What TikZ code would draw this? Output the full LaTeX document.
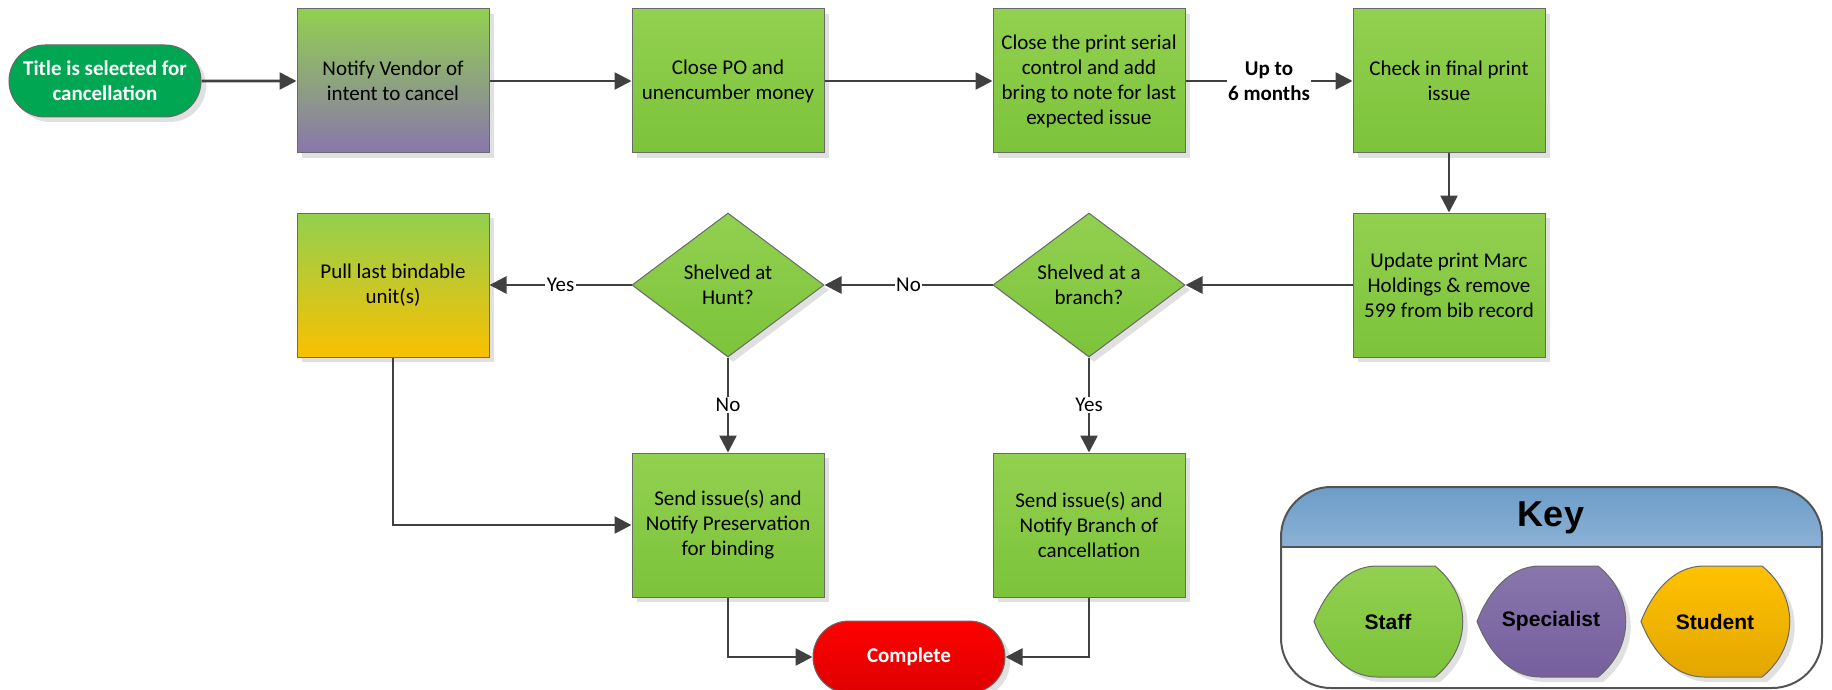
\documentclass[tikz,border=0pt]{standalone}
\usepackage{fontspec}
\setmainfont{Carlito}
\newfontfamily\arialfont{Liberation Sans}
\usetikzlibrary{shapes.geometric,shapes.misc,arrows.meta,shadows}
\definecolor{gTop}{RGB}{146,208,80}
\definecolor{gBot}{RGB}{124,195,58}
\definecolor{pBot}{RGB}{137,118,172}
\definecolor{oBot}{RGB}{250,192,0}
\definecolor{startG}{RGB}{0,166,81}
\definecolor{redTop}{RGB}{255,0,0}
\definecolor{redBot}{RGB}{222,0,0}
\definecolor{lineC}{RGB}{64,64,64}
\definecolor{edgeC}{RGB}{105,105,105}
\definecolor{keyTop}{RGB}{108,157,200}
\definecolor{keyBot}{RGB}{140,177,213}
\definecolor{spTop}{RGB}{136,118,172}
\definecolor{spBot}{RGB}{118,95,158}
\definecolor{stTop}{RGB}{255,194,0}
\definecolor{stBot}{RGB}{226,166,0}
\tikzset{
  shad/.style={drop shadow={shadow xshift=5pt,shadow yshift=-5pt,fill=black!12,opacity=1}},
  proc/.style={rectangle, draw=edgeC, line width=1pt, minimum width=192pt, minimum height=144pt,
    inner sep=0pt, top color=gTop, bottom color=gBot, align=center,
    font=\fontsize{21}{25}\selectfont, shad},
  decide/.style={diamond, draw=edgeC, line width=1pt, minimum width=192pt, minimum height=144pt,
    inner sep=0pt, top color=gTop, bottom color=gBot, align=center,
    font=\fontsize{21}{25}\selectfont, shad},
  term/.style={rounded rectangle, draw=edgeC, line width=1pt, minimum width=192pt, minimum height=72pt,
    inner sep=0pt, align=center, text=white, font=\fontsize{21}{25}\selectfont\bfseries, shad},
  conn/.style={draw=lineC, line width=2.6pt, -{Triangle[length=17pt,width=17pt]}},
  lbl/.style={fill=white, inner sep=1.5pt, align=center, font=\fontsize{21}{25}\selectfont},
  keytxt/.style={font=\arialfont\fontsize{21}{24}\selectfont\bfseries, inner sep=0pt},
}
\newcommand\mykeyshape[3]{%
  \path[draw=edgeC, line width=1pt, top color=#2, bottom color=#3, shad]
    (#1,621.5) .. controls (#1+11,593) and (#1+32,566) .. (#1+63,566)
    -- (#1+121,566) .. controls (#1+158,596) and (#1+158,647) .. (#1+121,677)
    -- (#1+63,677) .. controls (#1+32,677) and (#1+11,650) .. cycle;}
\begin{document}
\begin{tikzpicture}[x=1pt,y=-1pt]
\useasboundingbox (0,0) rectangle (1832,690);
% row 1
\node[term, fill=startG] (start) at (105,81) {Title is selected for\\cancellation};
\node[proc, top color=gTop, bottom color=pBot] (n1) at (393,81) {Notify Vendor of\\intent to cancel};
\node[proc] (n2) at (728,81) {Close PO and\\unencumber money};
\node[proc] (n3) at (1089,81) {Close the print serial\\control and add\\bring to note for last\\expected issue};
\node[proc] (n4) at (1449,81) {Check in final print\\issue};
% row 2
\node[proc] (n5) at (1449,285) {Update print Marc\\Holdings \& remove\\599 from bib record};
\node[decide] (d1) at (1089,285) {Shelved at a\\branch?};
\node[decide] (d2) at (728,285) {Shelved at\\Hunt?};
\node[proc, top color=gTop, bottom color=oBot] (n6) at (393,285) {Pull last bindable\\unit(s)};
% row 3
\node[proc] (n7) at (728,525) {Send issue(s) and\\Notify Preservation\\for binding};
\node[proc] (n8) at (1089,525) {Send issue(s) and\\Notify Branch of\\cancellation};
\node[term, top color=redTop, bottom color=redBot] (end) at (909,657) {Complete};
% connectors
\draw[conn] (start) -- (n1);
\draw[conn] (n1) -- (n2);
\draw[conn] (n2) -- (n3);
\draw[conn] (n3) -- node[lbl, font=\fontsize{21}{25}\selectfont\bfseries] (l1) {Up to\\6 months} (n4);
\draw[conn] (n4) -- (n5);
\draw[conn] (n5) -- (d1);
\draw[conn] (d1) -- node[lbl] (l2) {No} (d2);
\draw[conn] (d2) -- node[lbl] (l3) {Yes} (n6);
\draw[conn] (d1) -- node[lbl] (l4) {Yes} (n8);
\draw[conn] (d2) -- node[lbl] (l5) {No} (n7);
\draw[conn] (n6.south) |- (n7.west);
\draw[conn] (n7.south) |- (end.west);
\draw[conn] (n8.south) |- (end.east);
% key
\begin{scope}
\clip[rounded corners=50pt] (1281,487) rectangle (1822,688);
\fill[top color=keyTop, bottom color=keyBot] (1281,487) rectangle (1822,547);
\end{scope}
\draw[edgeC!80!black, line width=2pt] (1281,547) -- (1822,547);
\draw[edgeC!80!black, line width=2pt, rounded corners=50pt] (1281,487) rectangle (1822,688);
\node[font=\arialfont\fontsize{36}{40}\selectfont\bfseries, inner sep=0pt] (keyt) at (1551,518) {Key};
\mykeyshape{1314}{gTop}{gBot}
\mykeyshape{1477}{spTop}{spBot}
\mykeyshape{1641}{stTop}{stBot}
\node[keytxt] (kstaff) at (1388,621.5) {Staff};
\node[keytxt] (kspec) at (1551,621.5) {Specialist};
\node[keytxt] (kstud) at (1715,621.5) {Student};
\end{tikzpicture}
\end{document}
